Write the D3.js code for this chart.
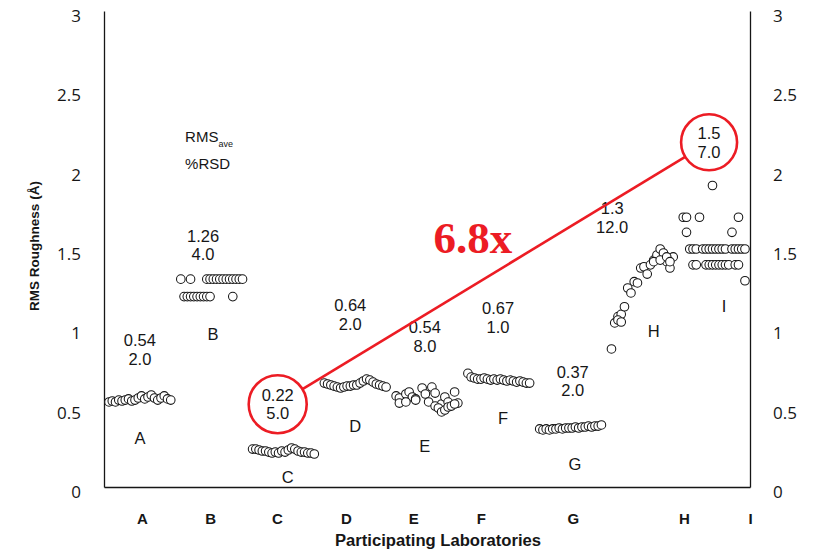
<!DOCTYPE html>
<html>
<head>
<meta charset="utf-8">
<script src="https://cdn.jsdelivr.net/npm/d3@7"></script>
<style>
  html, body { margin: 0; padding: 0; background: #fff; }
  svg { display: block; }
</style>
</head>
<body>
<svg id="chart" width="817" height="552"></svg>
<script>
// Participating laboratories and their summary statistics
const labs = ["A", "B", "C", "D", "E", "F", "G", "H", "I"];
const rmsAve = [0.54, 1.26, 0.22, 0.64, 0.54, 0.67, 0.37, 1.3, 1.5];
const rsdPct = [2.0, 4.0, 5.0, 2.0, 8.0, 1.0, 2.0, 12.0, 7.0];
const yTicks = [0, 0.5, 1, 1.5, 2, 2.5, 3];

// Individual RMS roughness measurements (Å), one array per row of markers,
// in run order across 20 run slots per lab (null = no run in that slot)
const runsA = [
  [0.536, 0.542, 0.536, 0.548, 0.542, 0.548, 0.555, 0.542, 0.548, 0.561, 0.574, 0.555, 0.567, 0.580, 0.561, 0.548, 0.561, 0.574, 0.555, 0.548]
];
const runsB = [
  [1.31, null, null, 1.31, null, null, null, null, 1.31, 1.31, 1.31, 1.31, 1.31, 1.31, 1.31, 1.31, 1.31, 1.31, 1.31, 1.31],
  [null, 1.20, 1.20, 1.20, 1.20, 1.20, 1.20, 1.20, 1.20, 1.20, null, null, null, null, null, null, 1.20, null, null, null]
];
const runsC = [
  [0.239, 0.239, 0.233, 0.227, 0.227, 0.220, 0.214, 0.220, 0.214, 0.227, 0.220, 0.233, 0.246, 0.239, 0.227, 0.220, 0.220, 0.214, 0.214, 0.208]
];
const runsD = [
  [0.655, 0.649, 0.643, 0.636, 0.630, 0.624, 0.630, 0.636, 0.636, 0.643, 0.643, 0.655, 0.668, 0.680, 0.674, 0.661, 0.649, 0.643, 0.636, 0.630]
];
const runsE = [
  [0.574, 0.561, null, 0.586, 0.599, 0.567, 0.555, null, 0.624, 0.586, null, 0.630, 0.592, null, 0.523, 0.567, 0.535, null, 0.599, 0.529],
  [null, 0.529, null, 0.536, null, null, 0.548, null, null, null, 0.536, null, 0.510, 0.498, 0.473, 0.485, 0.504, 0.510, 0.523, null]
];
const runsF = [
  [0.716, 0.693, 0.687, 0.680, 0.680, 0.687, 0.680, 0.674, 0.680, 0.674, 0.680, 0.674, 0.668, 0.674, 0.668, 0.661, 0.668, 0.661, 0.655, 0.655]
];
const runsG = [
  [0.366, 0.360, 0.366, 0.360, 0.366, 0.366, 0.372, 0.366, 0.372, 0.372, 0.372, 0.378, 0.372, 0.378, 0.378, 0.384, 0.378, 0.384, 0.384, 0.391]
];
const runsH = [
  [0.870, 1.034, 1.074, 1.088, 1.136, 1.254, 1.223, 1.294, 1.286, 1.380, 1.388, 1.342, 1.400, 1.430, 1.462, 1.500, 1.475, 1.420, 1.380, 1.450],
  [null, null, 1.052, 1.040, null, null, null, null, null, null, null, null, null, 1.420, null, 1.430, null, 1.450, 1.420, null]
];
const runsI = [
  [null, null, 1.50, 1.50, 1.50, null, 1.50, 1.50, 1.50, 1.50, 1.50, 1.50, 1.50, 1.50, null, 1.50, 1.50, 1.50, 1.50, 1.50],
  [null, null, null, 1.40, 1.40, null, null, 1.40, 1.40, 1.40, 1.40, 1.40, 1.40, 1.40, 1.40, null, 1.40, 1.40, null, null],
  [1.70, 1.70, null, null, null, 1.70, null, null, null, 1.90, null, null, null, null, null, null, null, 1.70, null, null],
  [null, 1.605, null, null, null, null, null, null, null, null, null, null, null, null, null, 1.605, null, null, null, 1.30]
];
const runs = [runsA, runsB, runsC, runsD, runsE, runsF, runsG, runsH, runsI];

// ---- layout ----
const svg = d3.select("#chart");
const ink = "#161616";
const red = "#ec1c24";
const sans = "'Liberation Sans', Arial, Helvetica, sans-serif";
const narrow = "'Liberation Sans Narrow', 'Arial Narrow', 'Liberation Sans', Arial, sans-serif";
const tickFont = "'Open Sans', 'DejaVu Sans', sans-serif";

// x is measured in lab units (one unit per laboratory), y in Å
const x = d3.scaleLinear().domain([0, labs.length]).range([104, 750]);
const y = d3.scaleLinear().domain([0, 3]).range([487, 11]);
const slot = d3.scaleLinear().domain([0, 19]).range([0.07, 0.93]);

// ---- axes ----
const yFmt = d3.format("");
const gL = svg.append("g")
  .attr("transform", `translate(${x(0)},0)`)
  .call(d3.axisLeft(y).tickValues(yTicks).tickSize(0).tickSizeOuter(0).tickPadding(23).tickFormat(yFmt));
const gR = svg.append("g")
  .attr("transform", `translate(${x(labs.length)},0)`)
  .call(d3.axisRight(y).tickValues(yTicks).tickSize(0).tickSizeOuter(0).tickPadding(23).tickFormat(yFmt));
[gL, gR].forEach(g => {
  g.select(".domain").attr("stroke", ink).attr("stroke-width", 1.3);
  g.selectAll(".tick text")
    .attr("font-family", tickFont).attr("font-size", 17).attr("fill", ink)
    .attr("transform", "translate(0,5)");
});

// lab letters sit under the axis at their own positions
const labTickAt = [0.53, 1.48, 2.41, 3.37, 4.31, 5.25, 6.53, 8.08, 9.0];
const gB = svg.append("g")
  .attr("transform", `translate(0,${y(0)})`)
  .call(d3.axisBottom(x).tickValues(labTickAt).tickSize(0).tickSizeOuter(0)
    .tickFormat((d, i) => labs[i]));
gB.select(".domain").attr("stroke", ink).attr("stroke-width", 1.3);
gB.selectAll(".tick text")
  .attr("y", 26).attr("dy", "0.71em")
  .attr("font-family", narrow).attr("font-weight", "bold")
  .attr("font-size", 15).attr("fill", ink);

// axis titles
svg.append("text")
  .attr("transform", "translate(39,246) rotate(-90)")
  .attr("text-anchor", "middle")
  .attr("font-family", sans).attr("font-weight", "bold").attr("font-size", 13.5)
  .attr("fill", ink)
  .text("RMS Roughness (Å)");
svg.append("text")
  .attr("x", 438).attr("y", 546)
  .attr("text-anchor", "middle")
  .attr("font-family", narrow).attr("font-weight", "bold").attr("font-size", 16)
  .attr("textLength", 206).attr("lengthAdjust", "spacingAndGlyphs")
  .attr("fill", ink)
  .text("Participating Laboratories");

// ---- measurement markers ----
const pts = [];
runs.forEach((rows, k) => rows.forEach(row => row.forEach((v, i) => {
  if (v != null) pts.push({ k, i, v });
})));
svg.append("g").selectAll("circle")
  .data(pts)
  .join("circle")
  .attr("cx", d => x(d.k + slot(d.i)))
  .attr("cy", d => y(d.v))
  .attr("r", 4.3)
  .attr("fill", "#fff")
  .attr("stroke", ink)
  .attr("stroke-width", 1.05);

// ---- per-lab annotations: mean RMS over %RSD, and the lab letter ----
// anchor points in data units [lab units, Å]
const noteAt = [[0.50, 0.926], [1.38, 1.582], [2.42, 0.580], [3.43, 1.147], [4.47, 1.008],
                [5.49, 1.128], [6.53, 0.725], [7.08, 1.758], [8.43, 2.231]];
const letterAt = [[0.50, 0.309], [1.52, 0.964], [2.56, 0.063], [3.50, 0.384], [4.47, 0.258],
                  [5.56, 0.435], [6.56, 0.145], [7.66, 0.983], [8.64, 1.141]];
const noteSize = 16.5;
const lineGap = 18.5;

const notes = svg.append("g")
  .attr("font-family", sans).attr("font-size", noteSize).attr("fill", ink)
  .attr("text-anchor", "middle");
labs.forEach((lab, k) => {
  const cx = x(noteAt[k][0]), cy = y(noteAt[k][1]);
  notes.append("text").attr("x", cx).attr("y", cy + 6).text(String(rmsAve[k]));
  notes.append("text").attr("x", cx).attr("y", cy + 6 + lineGap).text(rsdPct[k].toFixed(1));
  notes.append("text")
    .attr("x", x(letterAt[k][0])).attr("y", y(letterAt[k][1]) + 6)
    .text(lab);
});

// key for the annotation pair
const key = svg.append("g")
  .attr("font-family", sans).attr("font-size", 15).attr("fill", ink);
const keyX = x(1.13);
const rmsLine = key.append("text").attr("x", keyX).attr("y", y(2.206) + 5.5);
rmsLine.append("tspan").text("RMS");
rmsLine.append("tspan").attr("font-size", 9).attr("dy", 5).text("ave");
key.append("text").attr("x", keyX).attr("y", y(2.042) + 5.5).text("%RSD");

// ---- highlight: lowest vs highest lab mean ----
const lo = rmsAve.indexOf(d3.min(rmsAve));
const hi = rmsAve.indexOf(d3.max(rmsAve));
const ringR = 29;
const ringC = k => [x(noteAt[k][0]), y(noteAt[k][1]) + lineGap / 2];
const [c1x, c1y] = ringC(lo);
const [c2x, c2y] = ringC(hi);
const hl = svg.append("g").attr("fill", "none").attr("stroke", red).attr("stroke-width", 2.6);
hl.append("circle").attr("cx", c1x).attr("cy", c1y).attr("r", ringR);
hl.append("circle").attr("cx", c2x).attr("cy", c2y).attr("r", ringR - 1);
const len = Math.hypot(c2x - c1x, c2y - c1y);
const ux = (c2x - c1x) / len, uy = (c2y - c1y) / len;
hl.append("line")
  .attr("x1", c1x + ux * ringR).attr("y1", c1y + uy * ringR)
  .attr("x2", c2x - ux * (ringR - 1)).attr("y2", c2y - uy * (ringR - 1));

svg.append("text")
  .attr("x", x(5.14)).attr("y", y(1.569) + 15)
  .attr("text-anchor", "middle")
  .attr("font-family", "'Liberation Serif', 'Times New Roman', serif")
  .attr("font-weight", "bold").attr("font-size", 45)
  .attr("fill", red)
  .text((rmsAve[hi] / rmsAve[lo]).toFixed(1) + "x");
</script>
</body>
</html>
